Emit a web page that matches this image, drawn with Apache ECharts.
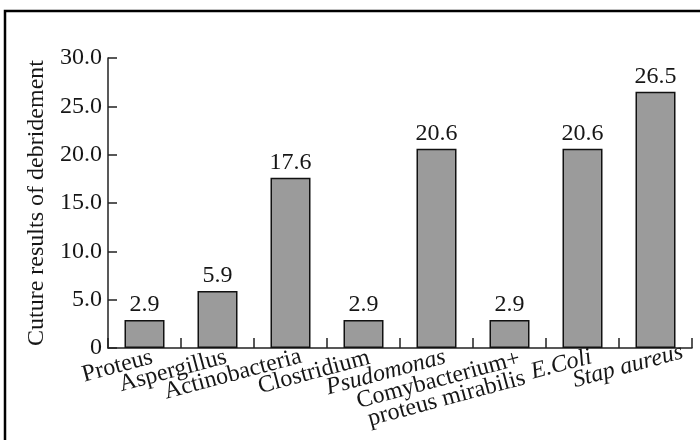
<!DOCTYPE html>
<html>
<head>
<meta charset="utf-8">
<script src="https://cdn.jsdelivr.net/npm/echarts@6/dist/echarts.min.js"></script>
<style>
  html, body { margin: 0; padding: 0; background: #fff; }
  #chart { width: 700px; height: 440px; }
</style>
</head>
<body>
<div id="chart"></div>
<script>
// Culture results of debridement, by organism
const categories = [
  'Proteus', 'Aspergillus', 'Actinobacteria', 'Clostridium',
  'Psudomonas', 'Comybacterium+\nproteus mirabilis', 'E.Coli', 'Stap aureus'
];
// Names set in italics on the axis
const italicNames = ['Psudomonas', 'E.Coli', 'Stap aureus'];
const values = [2.9, 5.9, 17.6, 2.9, 20.6, 2.9, 20.6, 26.5];
const yTicks = [0, 5, 10, 15, 20, 25, 30];
const yTitle = 'Cuture results of debridement';

const serif = '"Liberation Serif", "Times New Roman", serif';
const ink = '#161616';

// Small per-label nudges to the right of each category's tick point
const labelNudge = [8, 9, 11, 6, 9, 10, 9, 28];

const axisData = categories.map(function (name, i) {
  const multiLine = name.indexOf('\n') >= 0;
  return {
    value: name,
    textStyle: {
      fontStyle: italicNames.indexOf(name) >= 0 ? 'italic' : 'normal',
      verticalAlign: multiLine ? 'top' : 'middle',
      padding: [multiLine ? -8 : 0, -labelNudge[i], 0, 0]
    }
  };
});

const chart = echarts.init(document.getElementById('chart'), null, { renderer: 'canvas' });

chart.setOption({
  backgroundColor: '#fff',
  animation: false,
  graphic: [{
    type: 'polyline',
    shape: { points: [[5, 440], [5, 11], [700, 11]] },
    style: { stroke: '#000', lineWidth: 2.5, fill: null }
  }],
  grid: { left: 108, right: 8, top: 58, bottom: 92, containLabel: false },
  xAxis: {
    type: 'category',
    data: axisData,
    axisLine: { show: true, lineStyle: { color: '#222', width: 1.5 } },
    axisTick: { show: true, inside: true, length: 10, alignWithLabel: false, lineStyle: { color: '#222', width: 1.5 } },
    axisLabel: {
      interval: 0,
      rotate: 15,
      margin: 11,
      color: ink,
      fontFamily: serif,
      fontSize: 24,
      lineHeight: 20,
      align: 'right'
    }
  },
  yAxis: {
    type: 'value',
    min: yTicks[0],
    max: yTicks[yTicks.length - 1],
    interval: 5,
    name: yTitle,
    nameLocation: 'middle',
    nameGap: 55,
    nameTextStyle: { fontFamily: serif, fontSize: 24, color: ink },
    splitLine: { show: false },
    axisLine: { show: true, lineStyle: { color: '#222', width: 1.5 } },
    axisTick: { show: true, inside: true, length: 9, lineStyle: { color: '#222', width: 1.5 } },
    axisLabel: {
      margin: 6,
      color: ink,
      fontFamily: serif,
      fontSize: 24,
      formatter: function (v) { return v === 0 ? '0' : v.toFixed(1); }
    }
  },
  series: [{
    type: 'bar',
    data: values,
    barWidth: 40,
    itemStyle: { color: '#9b9b9b', borderColor: '#111', borderWidth: 1.5 },
    label: {
      show: true,
      position: 'top',
      distance: 3,
      color: ink,
      fontFamily: serif,
      fontSize: 24,
      formatter: function (p) { return p.value.toFixed(1); }
    }
  }]
});
</script>
</body>
</html>
